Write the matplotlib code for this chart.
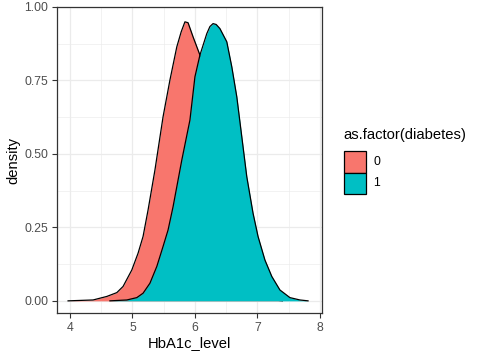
import matplotlib
matplotlib.use("Agg")
import matplotlib.pyplot as plt
from matplotlib.patches import Rectangle

plt.rcParams['font.family'] = ['Liberation Sans', 'DejaVu Sans']

# density curve of group 0 (no diabetes)
hba1c_0 = [3.97, 4.37, 4.59, 4.75, 4.85, 4.99, 5.09, 5.17, 5.25, 5.36, 5.49,
           5.60, 5.71, 5.78, 5.84, 5.89, 5.97, 6.08, 6.20, 6.40, 6.60, 6.80,
           7.00, 7.20, 7.40]
dens_0 = [0.0, 0.003, 0.015, 0.028, 0.049, 0.105, 0.162, 0.219, 0.309, 0.445,
          0.626, 0.751, 0.864, 0.915, 0.949, 0.946, 0.898, 0.836, 0.70, 0.45,
          0.22, 0.08, 0.02, 0.005, 0.0]

# density curve of group 1 (diabetes)
hba1c_1 = [4.64, 4.91, 5.07, 5.17, 5.28, 5.39, 5.49, 5.57, 5.65, 5.79, 5.92,
           6.00, 6.08, 6.19, 6.24, 6.29, 6.34, 6.40, 6.51, 6.59, 6.67, 6.75,
           6.83, 6.93, 7.01, 7.12, 7.23, 7.36, 7.52, 7.68, 7.81]
dens_1 = [0.0, 0.003, 0.011, 0.026, 0.060, 0.117, 0.185, 0.241, 0.320, 0.479,
          0.615, 0.762, 0.836, 0.909, 0.933, 0.943, 0.940, 0.926, 0.881, 0.796,
          0.694, 0.558, 0.422, 0.298, 0.219, 0.139, 0.083, 0.037, 0.011, 0.003,
          0.0]

groups = ['0', '1']
colors = ['#F8766D', '#00BFC4']
xticks = [4, 5, 6, 7, 8]
yticks = [0.0, 0.25, 0.5, 0.75, 1.0]

fig = plt.figure(figsize=(4.8, 3.6), dpi=100)
ax = fig.add_axes([0.118, 0.130, 0.552, 0.851])

for xs, ys, c in [(hba1c_0, dens_0, colors[0]), (hba1c_1, dens_1, colors[1])]:
    ax.fill_between(xs, 0, ys, color=c, lw=0, zorder=3)
    ax.plot(xs, ys, color='black', lw=0.9, zorder=3)

ax.set_xlim(3.787, 8.027)
ax.set_ylim(-0.042, 1.0)

ax.set_xticks(xticks)
ax.set_xticklabels([str(t) for t in xticks])
ax.set_yticks(yticks)
ax.set_yticklabels(['%.2f' % t for t in yticks])
ax.set_xticks([4.5, 5.5, 6.5, 7.5], minor=True)
ax.set_yticks([0.125, 0.375, 0.625, 0.875], minor=True)
ax.grid(which='major', color='#EBEBEB', lw=0.9, zorder=0)
ax.grid(which='minor', color='#EBEBEB', lw=0.45, zorder=0)
ax.tick_params(which='major', length=3.5, width=0.8, color='#333333',
               labelcolor='#4D4D4D', labelsize=8.8, pad=2.5)
ax.tick_params(which='minor', length=0)
for s in ax.spines.values():
    s.set_color('#333333')
    s.set_linewidth(0.9)

ax.set_xlabel('HbA1c_level', fontsize=10.6, labelpad=2)
ax.set_ylabel('density', fontsize=10.6, labelpad=3)

# legend drawn by hand, like ggplot's guide
fig.text(343 / 480, 1 - 135 / 360, 'as.factor(diabetes)', fontsize=10.6,
         va='center', ha='left')
for i, (g, c) in enumerate(zip(groups, colors)):
    top = 151 + i * 21.5
    fig.patches.append(Rectangle((344 / 480, 1 - (top + 21.5) / 360),
                                 21.5 / 480, 21.5 / 360, transform=fig.transFigure,
                                 facecolor=c, edgecolor='black', lw=0.9))
    fig.text(373 / 480, 1 - (top + 11) / 360, g, fontsize=8.8,
             va='center', ha='left')

fig.savefig('out.png', dpi=100)
